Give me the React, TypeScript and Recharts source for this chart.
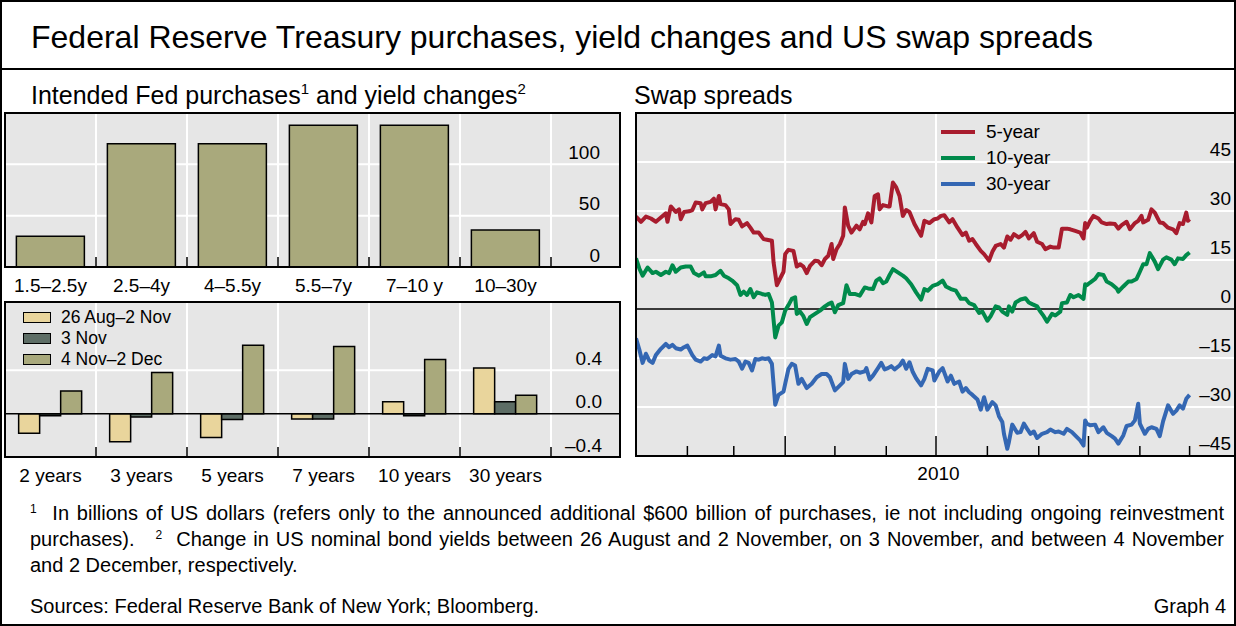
import React from "react";
import { Bar, BarChart, CartesianGrid, Line, LineChart, ReferenceLine, XAxis, YAxis } from "recharts";

const FONT = "'Liberation Sans', Arial, Helvetica, sans-serif";
const PANEL_BG = "#e6e6e6";
const OLIVE = "#a9a97c";
const TAN = "#e9d59c";
const DARK = "#5d6d65";
const RED = "#a81c2e";
const GREEN = "#008a4b";
const BLUE = "#3467b3";

// top left: intended Fed purchases, $bn
const maturityBuckets = ["1.5–2.5y", "2.5–4y", "4–5.5y", "5.5–7y", "7–10 y", "10–30y"];
const intendedPurchases = [30, 120, 120, 138, 138, 36];
const purchaseTicks = [0, 50, 100];

// bottom left: yield changes, percentage points
const yieldTenors = ["2 years", "3 years", "5 years", "7 years", "10 years", "30 years"];
const changeAugNov = [-0.18, -0.26, -0.22, -0.05, 0.11, 0.42];
const change3Nov = [-0.02, -0.03, -0.055, -0.05, -0.02, 0.11];
const changeNovDec = [0.21, 0.38, 0.63, 0.62, 0.5, 0.17];
const yieldSeriesNames = ["26 Aug–2 Nov", "3 Nov", "4 Nov–2 Dec"];
const yieldTicks = [-0.4, 0, 0.4];

// right: swap spreads, basis points; x = day of 2010 (0 = 1 Jan)
const spread5y: [number, number][] = [
  [0, 28.3], [3, 26.7], [6, 28.3], [9, 27.7], [12, 26.7], [15, 28.0], [18, 29.3], [19, 26.7], [21, 31.4], [24, 29.7],
  [26, 30.5], [27, 27.5], [29, 29.7], [32, 29.9], [34, 30.3], [36, 32.6], [39, 32.4], [40, 30.5], [42, 32.4], [45, 32.8],
  [47, 33.8], [48, 30.5], [50, 34.6], [51, 32.1], [54, 31.8], [56, 30.5], [57, 26.0], [60, 27.5], [62, 27.3], [64, 25.3],
  [67, 26.3], [69, 24.9], [71, 23.4], [74, 23.4], [77, 21.4], [79, 21.2], [82, 20.9], [83, 14.3], [85, 7.3], [87, 9.4],
  [89, 11.4], [90, 16.8], [91, 17.5], [92, 18.1], [95, 17.8], [97, 13.0], [99, 13.7], [101, 13.0], [103, 11.0], [105, 13.2],
  [108, 14.8], [110, 14.6], [112, 13.4], [114, 15.3], [116, 16.3], [118, 19.9], [119, 15.3], [121, 18.3], [123, 19.9], [125, 22.4],
  [126, 31.1], [128, 25.5], [130, 23.4], [133, 25.5], [135, 24.4], [137, 26.7], [138, 26.0], [140, 29.3], [142, 26.5], [144, 34.6],
  [146, 35.1], [147, 30.5], [149, 31.8], [152, 31.4], [153, 31.4], [155, 38.7], [157, 37.2], [159, 34.6], [161, 28.5], [163, 30.3],
  [165, 29.7], [168, 26.0], [170, 24.2], [172, 22.4], [174, 27.0], [177, 26.3], [180, 27.5], [182, 27.7], [184, 28.5], [186, 28.7],
  [189, 26.5], [191, 27.5], [194, 24.9], [197, 22.6], [199, 23.4], [201, 20.9], [203, 21.4], [205, 19.9], [208, 17.8], [210, 16.8],
  [213, 14.8], [215, 17.5], [217, 19.3], [220, 19.9], [222, 18.8], [224, 22.2], [226, 21.2], [228, 22.9], [231, 21.9], [233, 22.6],
  [235, 23.6], [237, 21.6], [240, 23.2], [242, 20.6], [245, 19.9], [247, 18.3], [250, 19.1], [252, 18.8], [255, 18.8], [257, 24.6],
  [260, 24.6], [262, 24.4], [265, 23.9], [268, 23.4], [270, 21.6], [271, 26.3], [272, 24.9], [274, 27.0], [276, 28.5], [279, 27.7],
  [281, 26.5], [284, 26.0], [286, 26.2], [289, 26.0], [291, 24.6], [293, 25.7], [296, 26.7], [298, 24.4], [301, 26.3], [303, 27.0],
  [305, 28.5], [306, 26.5], [309, 27.3], [311, 30.5], [313, 29.5], [316, 26.5], [318, 26.3], [321, 24.9], [324, 24.4], [326, 23.2],
  [328, 26.3], [330, 26.0], [332, 29.5], [333, 27.0], [334, 27.5],
];
const spread10y: [number, number][] = [
  [0, 15.5], [2, 12.4], [4, 10.2], [7, 12.7], [10, 11.0], [12, 11.4], [15, 10.4], [18, 11.4], [20, 11.0], [22, 13.4],
  [24, 11.4], [27, 12.7], [30, 13.0], [33, 13.0], [35, 11.0], [38, 10.2], [41, 11.2], [42, 10.0], [45, 10.0], [48, 10.4],
  [51, 11.7], [53, 10.2], [56, 9.4], [58, 8.7], [61, 7.3], [63, 4.3], [65, 5.3], [67, 4.3], [69, 6.1], [71, 3.6],
  [73, 5.1], [76, 4.6], [78, 4.3], [80, 4.6], [82, 2.0], [84, -8.7], [86, -5.1], [88, -4.1], [90, -0.5], [92, 1.2],
  [94, 3.1], [96, 3.6], [97, -1.5], [99, -0.8], [101, -2.2], [103, -4.6], [105, -2.5], [108, -1.5], [111, -0.5], [114, 0.8],
  [116, 1.5], [118, 2.0], [120, -1.0], [122, 1.2], [125, 1.8], [127, 7.3], [129, 4.6], [132, 4.6], [135, 4.1], [138, 6.6],
  [140, 6.3], [143, 6.1], [145, 8.7], [147, 9.4], [149, 7.9], [151, 8.4], [153, 10.4], [155, 12.2], [158, 11.2], [161, 10.2],
  [163, 9.4], [166, 7.6], [169, 5.1], [172, 2.9], [174, 6.1], [176, 5.6], [179, 7.1], [182, 7.6], [185, 8.7], [187, 6.9],
  [190, 6.1], [193, 5.6], [196, 3.1], [199, 3.1], [201, 1.8], [204, 1.2], [207, -1.2], [209, -0.8], [212, -3.6], [214, -2.2],
  [217, 0.8], [219, 0.5], [221, -0.8], [224, -1.8], [225, 0.8], [227, -0.8], [229, 2.0], [232, 2.9], [235, 3.3], [237, 2.0],
  [239, 1.5], [242, 0.8], [244, -0.8], [246, -2.2], [248, -3.9], [251, -1.5], [253, -2.0], [256, -0.8], [257, 1.8], [260, 2.0],
  [262, 4.3], [264, 3.6], [267, 4.3], [270, 3.1], [271, 7.6], [272, 7.3], [274, 8.1], [277, 9.2], [279, 10.7], [282, 10.4],
  [284, 8.4], [287, 7.6], [290, 6.3], [291, 5.3], [294, 6.9], [297, 8.4], [299, 8.4], [302, 9.2], [304, 11.4], [306, 13.7],
  [308, 13.7], [310, 17.1], [313, 14.5], [315, 12.2], [318, 15.1], [320, 15.8], [323, 15.1], [325, 13.7], [327, 15.5], [330, 15.3],
  [332, 16.5], [334, 17.3],
];
const spread30y: [number, number][] = [
  [0, -9.0], [2, -12.4], [4, -16.5], [6, -13.7], [8, -15.8], [10, -16.5], [12, -14.1], [15, -12.2], [18, -10.7], [20, -11.7],
  [22, -11.0], [24, -12.0], [27, -12.4], [29, -11.7], [31, -11.2], [34, -14.1], [36, -15.5], [39, -16.1], [41, -15.1], [43, -15.3],
  [46, -14.1], [48, -14.5], [50, -11.2], [51, -14.3], [54, -15.1], [57, -15.5], [60, -15.3], [62, -16.1], [64, -18.3], [66, -16.1],
  [68, -16.5], [70, -18.8], [72, -15.3], [74, -15.5], [76, -15.1], [78, -15.3], [80, -15.1], [82, -16.8], [84, -29.3], [86, -26.3],
  [89, -25.3], [90, -22.9], [92, -18.3], [94, -16.8], [96, -17.3], [98, -22.9], [100, -21.4], [103, -24.2], [106, -22.9], [109, -20.9],
  [112, -19.9], [115, -19.9], [117, -20.9], [120, -24.9], [122, -23.9], [125, -22.4], [126, -16.8], [128, -21.4], [130, -19.9], [133, -19.1],
  [135, -19.5], [138, -19.1], [139, -18.1], [141, -21.6], [143, -20.4], [146, -18.1], [148, -16.5], [150, -18.5], [152, -18.1], [154, -17.5],
  [156, -18.5], [159, -17.3], [161, -15.8], [163, -18.3], [165, -16.3], [167, -19.3], [169, -21.2], [172, -23.4], [174, -21.4], [176, -18.3],
  [179, -18.8], [180, -21.9], [183, -19.1], [185, -18.1], [188, -22.2], [190, -20.4], [192, -22.9], [195, -22.2], [197, -25.3], [199, -24.2],
  [201, -25.5], [203, -26.3], [206, -27.7], [208, -30.8], [210, -27.0], [212, -30.8], [215, -28.5], [217, -29.5], [219, -32.8], [221, -34.6],
  [222, -38.2], [224, -42.8], [225, -40.7], [227, -35.4], [230, -37.9], [232, -37.7], [234, -35.1], [236, -36.7], [238, -38.2], [240, -37.5],
  [242, -39.5], [245, -38.2], [248, -37.7], [250, -36.9], [253, -37.7], [255, -37.5], [258, -38.2], [260, -36.7], [263, -37.7], [266, -39.2],
  [268, -40.2], [270, -41.8], [271, -34.1], [272, -35.1], [274, -35.6], [277, -35.4], [279, -37.7], [282, -36.2], [284, -37.9], [287, -38.9],
  [289, -39.7], [291, -41.2], [294, -38.7], [296, -35.8], [299, -35.4], [301, -34.1], [303, -29.0], [304, -35.1], [307, -38.2], [309, -36.7],
  [311, -36.2], [314, -36.7], [316, -38.9], [318, -34.4], [321, -29.5], [324, -32.1], [326, -31.1], [328, -29.5], [330, -30.5], [332, -27.5],
  [334, -26.3],
];
const spreadSeries = [
  { name: "5-year", color: RED, points: spread5y },
  { name: "10-year", color: GREEN, points: spread10y },
  { name: "30-year", color: BLUE, points: spread30y },
];
const spreadTicks = [-45, -30, -15, 0, 15, 30, 45];
const monthStarts = [31, 59, 90, 120, 151, 181, 212, 243, 273, 304, 334];
const quarterStarts = [90, 181, 273];
const yearLabel = { day: 182.5, text: "2010" };
const dayRange: [number, number] = [0, 362];

// layout
const LEFT_W = 615;
const PAD_R = 69;
const bandW = (LEFT_W - PAD_R) / maturityBuckets.length;
const slotBounds = maturityBuckets.map((_, i) => i + 1);

const dash = (s: string) => s.replace("-", "–");

function valueTick(textX: number, fmt: (v: number) => string, lift: number) {
  return (props: any) => (
    <text x={textX} y={props.y - lift} dy="0.35em" textAnchor="end" fontSize={19} fontFamily={FONT} fill="#000">
      {fmt(props.payload.value)}
    </text>
  );
}

// category label under the band, plus a short upward tick at the band's right edge
function categoryTick(props: any) {
  const edge = props.x + bandW / 2;
  return (
    <g>
      <line x1={edge} x2={edge} y1={props.y} y2={props.y - 10} stroke="#000" strokeWidth={1.5} />
      <text x={props.x} y={props.y + 25} textAnchor="middle" fontSize={19} fontFamily={FONT} fill="#000">
        {props.payload.value}
      </text>
    </g>
  );
}

const bandGrid = ({ offset }: any) => slotBounds.map((i) => (offset?.left ?? 0) + i * bandW);

function monthTick(props: any) {
  const v = props.payload.value;
  if (v === yearLabel.day) {
    return (
      <text x={props.x} y={props.y + 24} textAnchor="middle" fontSize={19} fontFamily={FONT} fill="#000">
        {yearLabel.text}
      </text>
    );
  }
  const len = quarterStarts.includes(v) ? 20 : 10;
  return <line x1={props.x} x2={props.x} y1={props.y} y2={props.y - len} stroke="#000" strokeWidth={1.5} />;
}

function categoryAxis(height: number) {
  return (
    <XAxis
      dataKey="name"
      padding={{ left: 0, right: PAD_R }}
      interval={0}
      height={height}
      axisLine={false}
      tickLine={false}
      tickSize={0}
      tickMargin={0}
      tick={categoryTick}
    />
  );
}

function PurchasesChart() {
  const rows = maturityBuckets.map((name, i) => ({ name, value: intendedPurchases[i] }));
  return (
    <BarChart width={LEFT_W} height={154 + 35} data={rows} margin={{ top: 0, right: 0, bottom: 0, left: 0 }} barCategoryGap="12.5%">
      <CartesianGrid fill={PANEL_BG} stroke="#fff" strokeWidth={2} verticalCoordinatesGenerator={bandGrid} horizontalValues={[50, 100]} />
      {categoryAxis(35)}
      <YAxis
        domain={[0, 150]}
        ticks={purchaseTicks}
        orientation="right"
        mirror
        axisLine={false}
        tickLine={false}
        tick={valueTick(LEFT_W - 20, (v) => String(v), 12)}
      />
      <Bar dataKey="value" fill={OLIVE} stroke="#000" strokeWidth={1.5} isAnimationActive={false} />
    </BarChart>
  );
}

function YieldChart() {
  const rows = yieldTenors.map((name, i) => ({
    name,
    augNov: changeAugNov[i],
    nov3: change3Nov[i],
    novDec: changeNovDec[i],
  }));
  return (
    <BarChart
      width={LEFT_W}
      height={155 + 36}
      data={rows}
      margin={{ top: 0, right: 0, bottom: 0, left: 0 }}
      barCategoryGap="15%"
      barGap={0}
    >
      <CartesianGrid fill={PANEL_BG} stroke="#fff" strokeWidth={2} verticalCoordinatesGenerator={bandGrid} horizontalValues={[0.4]} />
      {categoryAxis(36)}
      <YAxis
        domain={[-0.4, 1.03]}
        ticks={yieldTicks}
        orientation="right"
        mirror
        axisLine={false}
        tickLine={false}
        tick={valueTick(LEFT_W - 18, (v) => dash(v.toFixed(1)), 12)}
      />
      <ReferenceLine y={0} stroke="#000" strokeWidth={1.5} />
      <Bar dataKey="augNov" fill={TAN} stroke="#000" strokeWidth={1.5} isAnimationActive={false} />
      <Bar dataKey="nov3" fill={DARK} stroke="#000" strokeWidth={1.5} isAnimationActive={false} />
      <Bar dataKey="novDec" fill={OLIVE} stroke="#000" strokeWidth={1.5} isAnimationActive={false} />
    </BarChart>
  );
}

function SpreadChart() {
  return (
    <LineChart width={600} height={343 + 30} margin={{ top: 0, right: 0, bottom: 0, left: 0 }}>
      <CartesianGrid fill={PANEL_BG} stroke="#fff" strokeWidth={2} verticalValues={quarterStarts} horizontalValues={[-30, -15, 15, 30, 45]} />
      <XAxis
        dataKey="d"
        type="number"
        domain={dayRange}
        allowDataOverflow
        ticks={[...monthStarts, yearLabel.day]}
        interval={0}
        height={30}
        axisLine={false}
        tickLine={false}
        tickSize={0}
        tickMargin={0}
        tick={monthTick}
      />
      <YAxis
        domain={[-45, 60]}
        ticks={spreadTicks}
        orientation="right"
        mirror
        axisLine={false}
        tickLine={false}
        tick={valueTick(595, (v) => dash(String(v)), 13)}
      />
      <ReferenceLine y={0} stroke="#000" strokeWidth={1.5} />
      {spreadSeries.map((s) => (
        <Line
          key={s.name}
          data={s.points.map(([d, v]) => ({ d, v }))}
          dataKey="v"
          name={s.name}
          type="linear"
          stroke={s.color}
          strokeWidth={4}
          strokeLinejoin="round"
          dot={false}
          isAnimationActive={false}
        />
      ))}
    </LineChart>
  );
}

const abs = (left: number, top: number, extra: React.CSSProperties = {}): React.CSSProperties => ({
  position: "absolute",
  left,
  top,
  ...extra,
});

const box = (left: number, top: number, width: number, height: number): React.CSSProperties =>
  abs(left, top, { width, height, boxSizing: "border-box", border: "2px solid #000", pointerEvents: "none" });

const footSup: React.CSSProperties = { fontSize: 12, verticalAlign: "top", lineHeight: "18px" };
const titleSup: React.CSSProperties = { fontSize: 15, verticalAlign: "top", lineHeight: "18px" };
const footLine = (top: number, justify: boolean): React.CSSProperties =>
  abs(28, top, {
    width: 1194,
    height: 26,
    fontSize: 20,
    lineHeight: "26px",
    whiteSpace: "nowrap",
    textAlign: justify ? "justify" : "left",
    textAlignLast: justify ? "justify" : "left",
  });

export default function App() {
  const yieldColors = [TAN, DARK, OLIVE];
  return (
    <div
      style={{
        position: "absolute",
        left: 0,
        top: 0,
        width: 1236,
        height: 626,
        background: "#fff",
        fontFamily: FONT,
        color: "#000",
        boxSizing: "border-box",
        border: "2px solid #000",
        overflow: "hidden",
      }}
    >
      <div style={abs(29, 15, { fontSize: 32, lineHeight: "40px", whiteSpace: "nowrap" })}>
        Federal Reserve Treasury purchases, yield changes and US swap spreads
      </div>
      <div style={abs(-2, 66, { width: 1240, height: 2, background: "#000" })} />

      <div style={abs(29, 78, { fontSize: 25, lineHeight: "30px", whiteSpace: "nowrap" })}>
        Intended Fed purchases<sup style={titleSup}>1</sup> and yield changes<sup style={titleSup}>2</sup>
      </div>
      <div style={abs(632, 78, { fontSize: 25, lineHeight: "30px", whiteSpace: "nowrap" })}>Swap spreads</div>

      <div style={abs(3, 111)}>
        <PurchasesChart />
      </div>
      <div style={abs(3, 300)}>
        <YieldChart />
      </div>
      <div style={abs(634, 111)}>
        <SpreadChart />
      </div>

      <div style={box(2, 110, 617, 156)} />
      <div style={box(2, 299, 617, 157)} />
      <div style={box(633, 110, 605, 345)} />

      {yieldSeriesNames.map((name, i) => (
        <div key={name} style={abs(21, 305 + i * 21, { height: 21, display: "flex", alignItems: "center", fontSize: 17.5, whiteSpace: "nowrap" })}>
          <span style={{ width: 28, height: 11, boxSizing: "border-box", border: "1.5px solid #000", background: yieldColors[i], marginRight: 10 }} />
          {name}
        </div>
      ))}

      {spreadSeries.map((s, i) => (
        <div key={s.name} style={abs(939, 117 + i * 26, { height: 26, display: "flex", alignItems: "center", fontSize: 19, whiteSpace: "nowrap" })}>
          <span style={{ width: 34, height: 4, background: s.color, marginRight: 11 }} />
          {s.name}
        </div>
      ))}

      <div style={footLine(498, true)}>
        <sup style={footSup}>1</sup>&nbsp; In billions of US dollars (refers only to the announced additional $600 billion of purchases, ie not
        including ongoing reinvestment
      </div>
      <div style={footLine(524, true)}>
        purchases).&nbsp;&nbsp; <sup style={footSup}>2</sup>&nbsp; Change in US nominal bond yields between 26 August and 2 November, on 3
        November, and between 4 November
      </div>
      <div style={footLine(550, false)}>and 2 December, respectively.</div>

      <div style={abs(28, 591, { fontSize: 20, lineHeight: "26px", whiteSpace: "nowrap" })}>
        Sources: Federal Reserve Bank of New York; Bloomberg.
      </div>
      <div style={abs(1080, 591, { width: 144, fontSize: 20, lineHeight: "26px", textAlign: "right", whiteSpace: "nowrap" })}>
        Graph 4
      </div>
    </div>
  );
}
